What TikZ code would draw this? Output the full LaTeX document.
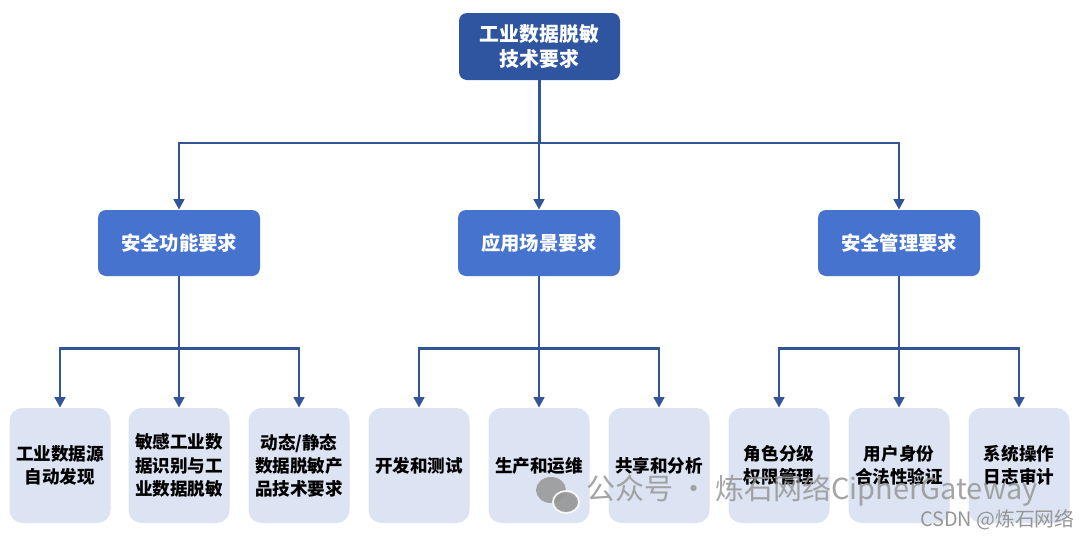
\documentclass[tikz,border=0pt]{standalone}
\usepackage{fontspec}
\setmainfont{Noto Sans CJK SC}
\usetikzlibrary{arrows.meta}

\definecolor{topblue}{RGB}{47,84,160}
\definecolor{midblue}{RGB}{70,115,205}
\definecolor{leafblue}{RGB}{220,227,242}
\definecolor{linkblue}{RGB}{50,85,150}
\definecolor{wmgray}{RGB}{150,150,150}

\tikzset{
	topbox/.style={fill=topblue, draw=none, rounded corners=8*0.02cm, minimum width=161*0.02cm, minimum height=67*0.02cm, text=white, font=\bfseries\fontsize{11.3}{14.5}\selectfont, align=center},
	midbox/.style={fill=midblue, draw=none, rounded corners=8*0.02cm, minimum width=162*0.02cm, minimum height=66*0.02cm, text=white, font=\bfseries\fontsize{11}{14}\selectfont, align=center},
	leafbox/.style={fill=leafblue, draw=none, rounded corners=13*0.02cm, minimum width=101*0.02cm, minimum height=115*0.02cm, text=black, font=\bfseries\fontsize{10}{13.2}\selectfont, align=center},
	link/.style={draw=linkblue, line width=1.7pt, -{Triangle[width=6pt,length=6pt]}},
}

\begin{document}
\begin{tikzpicture}[x=0.02cm,y=-0.02cm]
				\useasboundingbox[fill=white] (0,0) rectangle (1080,538);

				% top
				\node[topbox] (top) at (539.5,46.5) {工业数据脱敏\\技术要求};

				% second level
				\node[midbox] (m1) at (179,243) {安全功能要求};
				\node[midbox] (m2) at (539,243) {应用场景要求};
				\node[midbox] (m3) at (899,243) {安全管理要求};

				% leaves
				\foreach \n/\x/\t in {a1/60/{工业数据源\\自动发现}, a2/179/{敏感工业数\\据识别与工\\业数据脱敏}, a3/299/{动态/静态\\数据脱敏产\\品技术要求},
				                      b1/419/{开发和测试}, b2/539/{生产和运维}, b3/659/{共享和分析},
				                      c1/779/{角色分级\\权限管理}, c2/899/{用户身份\\合法性验证}, c3/1019/{系统操作\\日志审计}}{
					\node[leafbox] (\n) at (\x,465.5) {\t};
				}

				% connectors
				\coordinate (j0) at (539.5,143);
				\foreach \m in {m1,m2,m3}{
					\draw[link] (top.south) -- (j0) -| (\m.north);
				}
				\foreach \m/\g in {m1/a, m2/b, m3/c}{
					\coordinate (j\m) at ([yshift=-72*0.02cm]\m.south);
					\foreach \i in {1,2,3}{
						\draw[link] (\m.south) -- (j\m) -| (\g\i.north);
					}
				}

				% watermark
				\fill[wmgray, opacity=0.85] (551,490) ellipse (15 and 13);
				\fill[wmgray, draw=white, line width=1pt, opacity=0.9] (566,502) ellipse (13 and 11);
				\node[anchor=west, text=wmgray, text opacity=0.85, font=\fontsize{16.5}{18}\selectfont, inner sep=0] (wm) at (586,491) {公众号 · 炼石网络CipherGateway};
				\node[anchor=east, text=wmgray, font=\fontsize{11.3}{13}\selectfont, inner sep=0] (csdn) at (1075,520) {CSDN @炼石网络};
\end{tikzpicture}
\end{document}
